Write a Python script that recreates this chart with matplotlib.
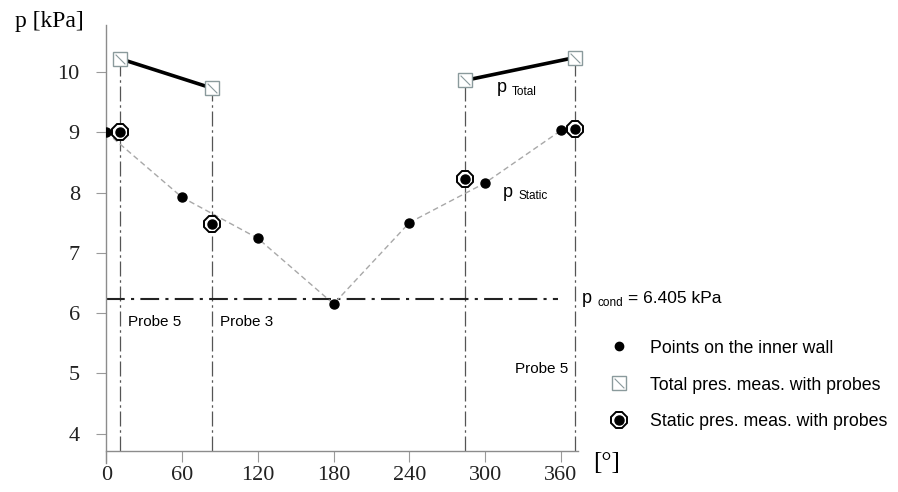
import numpy as np
import matplotlib
matplotlib.use("Agg")
import matplotlib.pyplot as plt
from matplotlib.lines import Line2D

# angles in degrees, pressures in kPa
wall_angle = [0, 60, 120, 180, 240, 300, 360]
wall_p = [9.0, 7.92, 7.24, 6.15, 7.5, 8.16, 9.03]

probe_angle = [11, 84, 284, 371]
probe_name = ["Probe 5", "Probe 3", "", "Probe 5"]
total_p = [10.22, 9.73, 9.86, 10.24]
static_p = [9.01, 7.47, 8.23, 9.06]

p_cond_line = 6.24
p_cond_label = "= 6.405 kPa"

x_ticks = [0, 60, 120, 180, 240, 300, 360]
y_ticks = [4, 5, 6, 7, 8, 9, 10]

SANS = ["Liberation Sans", "DejaVu Sans"]
SERIF = ["Liberation Serif", "DejaVu Serif"]

fig = plt.figure(figsize=(8.98, 4.92), dpi=100)
ax = fig.add_axes([0.1183, 0.0833, 0.5254, 0.8659])
ax.set_xlim(0, 373.5)
ax.set_ylim(3.71, 10.78)

# axes look
for s in ["top", "right"]:
    ax.spines[s].set_visible(False)
for s in ["left", "bottom"]:
    ax.spines[s].set_color("#8c8c8c")
    ax.spines[s].set_linewidth(1.0)
ax.spines["left"].set_bounds(3.51, 10.78)
ax.plot(0, 1, marker="^", color="black", ms=5, transform=ax.get_yaxis_transform(),
        clip_on=False)

ax.set_xticks(x_ticks)
ax.set_yticks(y_ticks)
ax.tick_params(axis="x", direction="out", length=8, width=0.8, color="#9a9a9a",
               pad=3, labelsize=16, labelcolor="#222222")
ax.tick_params(axis="y", direction="out", length=7, width=0.8, color="#9a9a9a",
               pad=12, labelsize=16, labelcolor="#222222")
for lab in ax.get_xticklabels() + ax.get_yticklabels():
    lab.set_family(SERIF)

# probe vertical lines
for a, tp in zip(probe_angle, total_p):
    ax.plot([a, a], [ax.get_ylim()[0], tp], color="#555555", lw=0.9,
            ls=(0, (12, 3, 2, 3)), zorder=1)

# condenser pressure line
ax.plot([0, 358], [p_cond_line, p_cond_line], color="#222222", lw=1.5,
        ls=(0, (9, 3, 1.5, 3)), zorder=2)

# static pressure curve through the wall points
ax.plot(wall_angle, wall_p, color="#a8a8a8", lw=1.0, ls=(0, (4, 2.5)), zorder=2)

# total pressure lines
ax.plot(probe_angle[:2], total_p[:2], color="black", lw=2.6, zorder=3)
ax.plot(probe_angle[2:], total_p[2:], color="black", lw=2.6, zorder=3)

# markers
ax.plot(wall_angle, wall_p, "o", color="black", ms=6.5, zorder=5)
diag = [(-1, 1), (1, -1)]
ax.plot(probe_angle, total_p, "s", mfc="white", mec="#8a9a9c", mew=1.0, ms=10, zorder=6,
        clip_on=False)
ax.plot(probe_angle, total_p, marker=diag, ls="none", mec="#8a9a9c", mew=0.8, ms=7,
        zorder=7, clip_on=False)
ax.plot(probe_angle, static_p, "8", mfc="white", mec="black", mew=1.4, ms=13, zorder=6,
        clip_on=False)
ax.plot(probe_angle, static_p, "o", color="black", ms=6.5, zorder=7, clip_on=False)

# labels
for a, name in zip(probe_angle[:2], probe_name[:2]):
    ax.text(a + 6, 5.85, name, family=SANS, fontsize=11, va="center", ha="left")
ax.text(probe_angle[3] - 5.5, 5.07, probe_name[3], family=SANS, fontsize=11,
        va="center", ha="right")

ax.text(309.4, 9.67, "p", family=SANS, fontsize=13, va="baseline")
ax.text(321.3, 9.62, "Total", family=SANS, fontsize=8.5, va="baseline")
ax.text(314.1, 7.93, "p", family=SANS, fontsize=13, va="baseline")
ax.text(326.0, 7.89, "Static", family=SANS, fontsize=8.5, va="baseline")
ax.text(376.7, 6.17, "p", family=SANS, fontsize=13, va="baseline")
ax.text(388.6, 6.12, "cond", family=SANS, fontsize=8.5, va="baseline")
ax.text(413.0, 6.17, p_cond_label, family=SANS, fontsize=12.5, va="baseline")

fig.text(15 / 898, 1 - 22 / 492, "p [kPa]", family=SERIF, fontsize=17, va="center")
fig.text(593 / 898, 1 - 463 / 492, "[°]", family=SERIF, fontsize=18, va="center")

# legend
h_wall = Line2D([], [], marker="o", color="black", ls="none", ms=6)
h_tot_sq = Line2D([], [], marker="s", mfc="white", mec="#8a9a9c", ls="none", ms=10)
h_tot_x = Line2D([], [], marker=diag, mec="#8a9a9c", ls="none", ms=7, mew=0.8)
h_st_ring = Line2D([], [], marker="8", mfc="white", mec="black", mew=1.4, ls="none", ms=13)
h_st_dot = Line2D([], [], marker="o", color="black", ls="none", ms=6.5)
fig.legend([h_wall, (h_tot_sq, h_tot_x), (h_st_ring, h_st_dot)],
           ["Points on the inner wall", "Total pres. meas. with probes",
            "Static pres. meas. with probes"],
           loc="upper left", bbox_to_anchor=(0.662, 0.335), frameon=False,
           prop={"family": SANS, "size": 12.8}, handlelength=1.4, handletextpad=1.0,
           labelspacing=1.12, borderpad=0.2)

fig.savefig("out.png", dpi=100)
